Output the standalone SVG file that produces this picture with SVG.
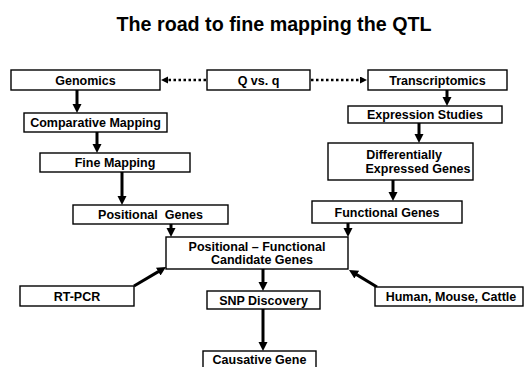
<svg xmlns="http://www.w3.org/2000/svg" width="525" height="367" viewBox="0 0 525 367">
<style>
.box{fill:#fff;stroke:#000;stroke-width:1.4}
.t{font-family:"Liberation Sans",Arial,sans-serif;font-weight:bold;font-size:12.5px;fill:#000;text-anchor:middle}
.title{font-family:"Liberation Sans",Arial,sans-serif;font-weight:bold;font-size:19.7px;fill:#000;text-anchor:middle}
.c{fill:none;stroke:#000;stroke-width:3;marker-end:url(#ah)}
.d{fill:none;stroke:#000;stroke-width:2.5;stroke-dasharray:2.5 2.5;marker-end:url(#ahs)}
</style>
<defs>
<marker id="ah" markerUnits="userSpaceOnUse" markerWidth="10" markerHeight="10" refX="2" refY="4.5" orient="auto">
<path d="M0,0 L9,4.5 L0,9 z" fill="#000"/>
</marker>
<marker id="ahs" markerUnits="userSpaceOnUse" markerWidth="8" markerHeight="8" refX="1" refY="3.5" orient="auto">
<path d="M0,0 L7,3.5 L0,7 z" fill="#000"/>
</marker>
</defs>
<rect width="525" height="367" fill="#fff"/>
<text class="title" x="274" y="30.5">The road to fine mapping the QTL</text>

<g id="connectors">
<path class="d" d="M206,80 H167"/>
<path class="d" d="M311,80 H361"/>
<path class="c" d="M77,90 V106"/>
<path class="c" d="M97,132 V146"/>
<path class="c" d="M122,172 V198"/>
<path class="c" d="M171,224 V230"/>
<path class="c" d="M447,90 V99"/>
<path class="c" d="M419,123 V136"/>
<path class="c" d="M393,180 V194"/>
<path class="c" d="M348,223 V230"/>
<path class="c" d="M134,286 L160,270.6"/>
<path class="c" d="M377,287 L355,273.6"/>
<path class="c" d="M263,269 V284"/>
<path class="c" d="M263,309 V344"/>
</g>

<g id="genomics"><rect class="box" x="11" y="70" width="149" height="20"/><text class="t" x="85.5" y="84.5">Genomics</text></g>
<g id="qvsq"><rect class="box" x="207" y="70" width="103" height="20"/><text class="t" x="258.5" y="84.5">Q vs. q</text></g>
<g id="transcriptomics"><rect class="box" x="368" y="70" width="139" height="20"/><text class="t" x="437.5" y="84.5">Transcriptomics</text></g>
<g id="comparative"><rect class="box" x="24" y="113" width="143" height="19"/><text class="t" x="95.5" y="127">Comparative Mapping</text></g>
<g id="finemapping"><rect class="box" x="40" y="153" width="150" height="19"/><text class="t" x="115" y="167">Fine Mapping</text></g>
<g id="expression"><rect class="box" x="348" y="106" width="154" height="17"/><text class="t" x="425" y="119">Expression Studies</text></g>
<g id="deg"><rect class="box" x="328" y="143" width="145" height="37"/><text class="t" x="404" y="159">Differentially</text><text class="t" x="418" y="173">Expressed Genes</text></g>
<g id="positional"><rect class="box" x="73" y="205" width="155" height="19"/><text class="t" x="150.5" y="219">Positional&#160; Genes</text></g>
<g id="functional"><rect class="box" x="312" y="201" width="150" height="22"/><text class="t" x="387" y="216.5">Functional Genes</text></g>
<g id="pfc"><rect class="box" x="166" y="237" width="182" height="32"/><text class="t" x="257" y="251">Positional – Functional</text><text class="t" x="262" y="264">Candidate Genes</text></g>
<g id="rtpcr"><rect class="box" x="20" y="286" width="114" height="20"/><text class="t" x="77" y="300.5">RT-PCR</text></g>
<g id="snp"><rect class="box" x="207" y="291" width="113" height="18"/><text class="t" x="263.5" y="304.5">SNP Discovery</text></g>
<g id="hmc"><rect class="box" x="375" y="287" width="148" height="19"/><text class="t" x="451" y="301">Human, Mouse, Cattle</text></g>
<g id="causative"><rect class="box" x="203" y="351" width="113" height="20"/><text class="t" x="259.5" y="364">Causative Gene</text></g>
</svg>
